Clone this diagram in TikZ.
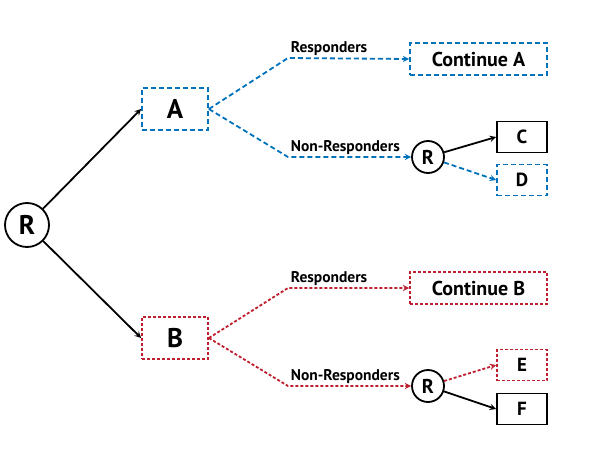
\documentclass[tikz,border=0pt]{standalone}
\usepackage{fontspec}
\setmainfont{PT Sans}
\usetikzlibrary{positioning}
\definecolor{armblue}{RGB}{0,114,188}
\definecolor{armred}{RGB}{190,30,45}

\begin{document}
\begin{tikzpicture}[x=1pt, y=-1pt, > = stealth, line width=1.8pt, font=\bfseries]
        \tikzstyle{arm}=[draw, minimum width=66pt, minimum height=42pt, font=\bfseries\fontsize{27}{27}\selectfont]
        \tikzstyle{rand}=[circle, draw, inner sep=0pt]
        \tikzstyle{cont}=[draw, minimum width=137pt, minimum height=32pt, font=\bfseries\fontsize{20}{20}\selectfont]
        \tikzstyle{leaf}=[draw, minimum width=50pt, minimum height=31pt, font=\bfseries\fontsize{19}{19}\selectfont]
        \tikzstyle{lbl}=[anchor=south west, inner sep=2pt, font=\bfseries\fontsize{15.5}{15.5}\selectfont]
        \tikzstyle{bluedash}=[draw=armblue, dash pattern=on 5pt off 3pt]
        \tikzstyle{reddot}=[draw=armred, dash pattern=on 3pt off 2pt]

            \useasboundingbox (0,0) rectangle (600,450);

            % Nodes
            \node[rand, minimum size=44pt, font=\bfseries\fontsize{27}{27}\selectfont] (r) at (27,225) {R};
            \node[arm, bluedash] (a) at (175,109) {A};
            \node[arm, reddot] (b) at (175,338) {B};

            \node[cont, bluedash] (conta) at (478.5,59) {Continue A};
            \node[rand, minimum size=32pt, font=\bfseries\fontsize{20}{20}\selectfont] (ra) at (428,157) {R};
            \node[leaf] (c) at (522,137) {C};
            \node[leaf, bluedash] (d) at (522,180) {D};

            \node[cont, reddot] (contb) at (478.5,288) {Continue B};
            \node[rand, minimum size=32pt, font=\bfseries\fontsize{20}{20}\selectfont] (rb) at (428,386) {R};
            \node[leaf, reddot] (e) at (522,365) {E};
            \node[leaf] (f) at (522,409) {F};

            % Bends
            \coordinate (respa) at (288,58);
            \coordinate (nonra) at (288,157);
            \coordinate (respb) at (288,288);
            \coordinate (nonrb) at (288,386);

            % Edges
            \draw[->] (r) -- (a.west);
            \draw[->] (r) -- (b.west);

            \draw[->, bluedash] (a.east) -- (respa) -- (conta.west);
            \draw[->, bluedash] (a.east) -- (nonra) -- (ra);
            \draw[->] (ra) -- (c.west);
            \draw[->, bluedash] (ra) -- (d.west);

            \draw[->, reddot] (b.east) -- (respb) -- (contb.west);
            \draw[->, reddot] (b.east) -- (nonrb) -- (rb);
            \draw[->, reddot] (rb) -- (e.west);
            \draw[->] (rb) -- (f.west);

            % Labels
            \node[lbl] at (respa) {Responders};
            \node[lbl] at (nonra) {Non-Responders};
            \node[lbl] at (respb) {Responders};
            \node[lbl] at (nonrb) {Non-Responders};
\end{tikzpicture}
\end{document}
